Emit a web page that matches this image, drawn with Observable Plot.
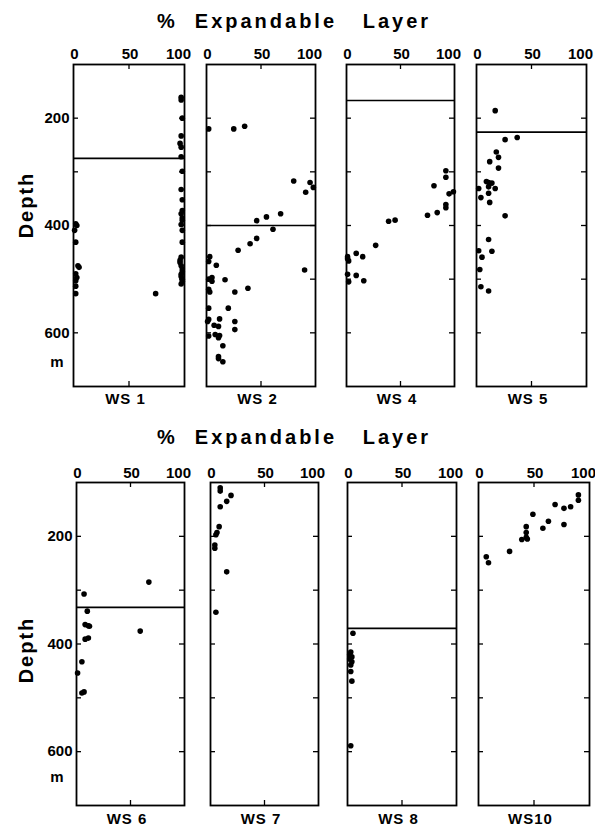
<!DOCTYPE html>
<html><head><meta charset="utf-8">
<script src="https://cdn.jsdelivr.net/npm/d3@7"></script>
<script src="https://cdn.jsdelivr.net/npm/@observablehq/plot@0.6"></script>
<style>
html,body{margin:0;padding:0;background:#fff;}
#fig{position:relative;width:595px;height:827px;overflow:hidden;background:#fff;}
#fig svg{position:absolute;}
</style></head>
<body><div id="fig"></div>
<script>
// ---- data ----
const wells = ["WS 1", "WS 2", "WS 4", "WS 5", "WS 6", "WS 7", "WS 8", "WS10"];
const boundaryDepths = [275, 400, 167, 226, 332, null, 371, null];
const pctTicksLeft = [0, 50];
const pctTicksRight = [100];
const depthTicks = [200, 300, 400, 500, 600];
const depthLabels = [200, 400, 600];
const titleText = "%  Expandable   Layer";
const depthTitle = "Depth";
const depthUnit = "m";

// [% expandable layer, depth m]
const ws1 = [[97,161],[97,166],[98,200],[97,233],[96,247],[97,254],[97,272],[98,299],[97,333],[98,352],[98,372],[97,378],[98,386],[98,390],[97,398],[98,409],[98,431],[97,459],[96,465],[96,469],[97,475],[98,481],[98,486],[97,491],[97,495],[98,500],[98,504],[97,509],
  [2,397],[3,400],[1,409],[2,431],[4,475],[5,478],[2,490],[3,497],[2,503],[2,513],[2,527],[74,527]];
const ws2 = [[2,220],[25,220],[35,215],[80,317],[95,320],[98,329],[91,338],[68,378],[55,384],[46,391],[61,407],[46,424],[40,434],[29,446],[3,458],[2,467],[9,474],[90,483],[2,500],[5,497],[5,504],[17,501],[2,519],[3,524],[26,524],[38,517],[2,554],[20,554],[2,575],[12,574],[1,579],[26,579],[7,586],[11,588],[26,594],[2,606],[8,603],[11,609],[12,605],[15,624],[11,644],[11,648],[15,654]];
const ws4 = [[92,298],[92,310],[81,326],[95,341],[99,337],[92,361],[92,367],[84,376],[75,381],[39,392],[45,390],[27,437],[1,458],[1,462],[2,466],[9,452],[15,458],[1,491],[9,493],[2,505],[16,503]];
const ws5 = [[17,186],[26,240],[37,236],[18,263],[20,273],[12,281],[20,293],[9,318],[11,320],[14,321],[17,331],[11,328],[2,331],[11,340],[4,348],[12,357],[26,382],[11,426],[2,447],[14,448],[5,459],[3,482],[4,514],[11,522]];
const ws6 = [[67,285],[7,307],[10,339],[8,364],[11,366],[12,367],[59,376],[8,391],[11,389],[5,433],[1,454],[5,491],[7,489]];
const ws7 = [[9,110],[9,116],[19,124],[15,135],[9,145],[8,182],[6,193],[5,197],[4,216],[4,222],[15,266],[5,341]];
const ws8 = [[5,380],[3,415],[2,420],[4,424],[2,428],[4,433],[3,439],[3,451],[4,469],[3,589]];
const ws10 = [[90,123],[90,133],[69,141],[77,148],[83,145],[49,159],[77,178],[63,172],[58,185],[43,182],[43,193],[43,202],[39,206],[44,205],[28,228],[7,238],[9,249]];
const wellData = [ws1, ws2, ws4, ws5, ws6, ws7, ws8, ws10];

// ---- layout ----
const FONT = '"Liberation Sans", Arial, Helvetica, sans-serif';
const rows = [
  {y0: 64, y1: 386, titleBase: 28, tickPad: 6, labelBase: 403.5, depthCenter: 205, unitBase: 367},
  {y0: 482, y1: 805, titleBase: 444, tickPad: 5, labelBase: 823.5, depthCenter: 650, unitBase: 782}
];
const cols = [
  [[73,184],[206,315],[346,454],[476,586]],
  [[76,184],[210,318],[347,456],[478,589]]
];
const ML = 50, MR = 12, MT = 30, MB = 12;

const fig = document.getElementById("fig");

// overlay text
const ov = d3.create("svg").attr("width", 595).attr("height", 827)
  .style("left", "0px").style("top", "0px")
  .attr("font-family", FONT).attr("font-weight", "bold").attr("fill", "black");
rows.forEach((r, ri) => {
  ov.append("text").attr("x", 294).attr("y", r.titleBase).attr("text-anchor", "middle")
    .attr("font-size", 20).attr("letter-spacing", 3).style("white-space", "pre").attr("xml:space", "preserve")
    .text(titleText);
  ov.append("text").attr("transform", `translate(33,${r.depthCenter}) rotate(-90)`).attr("text-anchor", "middle")
    .attr("font-size", 20).attr("letter-spacing", 2).text(depthTitle);
  ov.append("text").attr("x", 57).attr("y", r.unitBase).attr("text-anchor", "middle")
    .attr("font-size", 15).text(depthUnit);
  cols[ri].forEach(([x0, x1], ci) => {
    ov.append("text").attr("x", (x0 + x1) / 2 - 3).attr("y", r.labelBase).attr("text-anchor", "middle")
      .attr("font-size", 15).attr("letter-spacing", 1).style("white-space", "pre").text(wells[ri * 4 + ci]);
  });
});
fig.appendChild(ov.node());

// panels
rows.forEach((r, ri) => {
  cols[ri].forEach(([x0, x1], ci) => {
    const k = ri * 4 + ci;
    const fw = x1 - x0, fh = r.y1 - r.y0;
    const first = ci === 0;
    const b = boundaryDepths[k];
    const chart = Plot.plot({
      width: fw + ML + MR,
      height: fh + MT + MB,
      marginLeft: ML, marginRight: MR, marginTop: MT, marginBottom: MB,
      style: {background: "transparent", overflow: "visible", fontFamily: FONT, fontSize: "15px", fontWeight: "bold", color: "black"},
      x: {domain: [0, 100], label: null},
      y: {domain: [100, 700], reverse: true, label: null},
      marks: [
        Plot.axisX({anchor: "top", ticks: pctTicksLeft, tickSize: 0, tickPadding: r.tickPad, fontSize: 15, fontWeight: "bold", label: null, dx: 1}),
        Plot.axisX({anchor: "top", ticks: pctTicksRight, tickSize: 0, tickPadding: r.tickPad, fontSize: 15, fontWeight: "bold", label: null, dx: -6}),
        first
          ? Plot.axisY({anchor: "left", ticks: depthLabels, tickSize: 0, tickPadding: 4, fontSize: 15, fontWeight: "bold", label: null})
          : Plot.axisY({anchor: "left", ticks: [], tickSize: 0, label: null}),
        Plot.tickY(depthTicks, {y: d => d, insetRight: fw - 5, strokeWidth: 1.3}),
        Plot.tickY(depthTicks, {y: d => d, insetLeft: fw - 5, strokeWidth: 1.3}),
        Plot.tickX([50], {x: d => d, insetBottom: fh - 5, strokeWidth: 1.3}),
        Plot.tickX([50], {x: d => d, insetTop: fh - 5, strokeWidth: 1.3}),
        b != null ? Plot.ruleY([b], {y: d => d, strokeWidth: 1.6}) : null,
        Plot.frame({strokeWidth: 1.8}),
        Plot.dot(wellData[k], {x: d => d[0], y: d => d[1], r: 2.8, fill: "black"})
      ]
    });
    chart.style.position = "absolute";
    chart.style.left = (x0 - ML) + "px";
    chart.style.top = (r.y0 - MT) + "px";
    fig.appendChild(chart);
  });
});
</script></body></html>
